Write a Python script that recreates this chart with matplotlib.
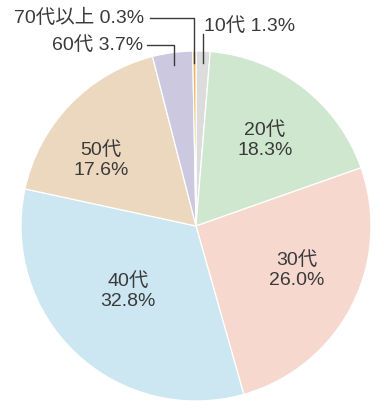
import numpy as np
import matplotlib.pyplot as plt

plt.rcParams['font.family'] = ['Liberation Sans', 'Noto Sans CJK JP', 'DejaVu Sans']

# Age group shares (clockwise from top)
labels = ['10代', '20代', '30代', '40代', '50代', '60代', '70代以上']
shares = [1.3, 18.3, 26.0, 32.8, 17.6, 3.7, 0.3]
colors = ['#dcdcdc', '#cfe6cf', '#f7d8ce', '#cce7f2', '#ecd8bf', '#cbc8e0', '#e8b55a']

W, H = 384, 415
cx, cy, R = 196, H - 226, 175
text_color = '#3a3a3a'
fs = 14

fig = plt.figure(figsize=(W / 100, H / 100), dpi=100)
ax = fig.add_axes([0, 0, 1, 1])

wedges, _ = ax.pie(shares, colors=colors, startangle=90, counterclock=False,
                   center=(cx, cy), radius=R, frame=True,
                   wedgeprops=dict(edgecolor='white', linewidth=0.9))
ax.set_xlim(0, W)
ax.set_ylim(0, H)
ax.axis('off')


def point(w, frac):
    ang = np.deg2rad((w.theta1 + w.theta2) / 2)
    return cx + frac * R * np.cos(ang), cy + frac * R * np.sin(ang)


# inside labels for the large slices (pixel positions from the top-left)
inside_pos = [(265, 140), (297, 270), (128, 291), (101, 160)]
for (px, py), lab, val in zip(inside_pos, labels[1:5], shares[1:5]):
    ax.text(px, H - py, f'{lab}\n{val:.1f}%', ha='center', va='center',
            fontsize=fs, color=text_color, linespacing=1.2)

# outside labels with leader lines for the small slices
lw = 1.0
# 10代
x, y = point(wedges[0], 0.93)
ax.plot([x, x], [y, H - 34], color=text_color, lw=lw)
ax.text(x + 1, H - 26, f'{labels[0]} {shares[0]:.1f}%', ha='left', va='center',
        fontsize=fs, color=text_color)
# 60代
x, y = point(wedges[5], 0.93)
ax.plot([147, x, x], [H - 45, H - 45, y], color=text_color, lw=lw)
ax.text(143, H - 45, f'{labels[5]} {shares[5]:.1f}%', ha='right', va='center',
        fontsize=fs, color=text_color)
# 70代以上
x, y = point(wedges[6], 0.93)
ax.plot([150, x, x], [H - 18, H - 18, y], color=text_color, lw=lw)
ax.text(144, H - 18, f'{labels[6]} {shares[6]:.1f}%', ha='right', va='center',
        fontsize=fs, color=text_color)

fig.savefig('out.png', dpi=100, facecolor='white')
